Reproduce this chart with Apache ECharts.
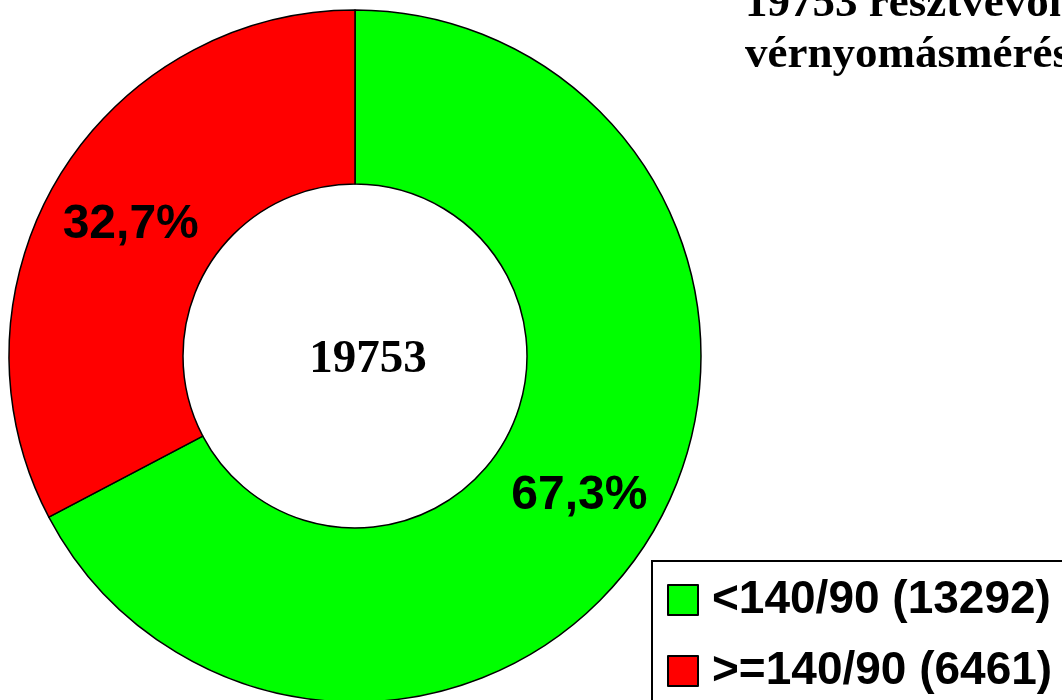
<!DOCTYPE html>
<html>
<head>
<meta charset="utf-8">
<script src="https://cdn.jsdelivr.net/npm/echarts@6/dist/echarts.min.js"></script>
<style>
  html, body { margin: 0; padding: 0; background: #fff; }
  #chart { width: 1062px; height: 700px; }
</style>
</head>
<body>
<div id="chart"></div>
<script>
var categories = ['<140/90', '>=140/90'];
var values = [13292, 6461];
var colors = ['#00ff00', '#ff0000'];
var total = 19753;

var myChart = echarts.init(document.getElementById('chart'));

var pieData = [];
for (var i = 0; i < categories.length; i++) {
  pieData.push({
    name: categories[i] + ' (' + values[i] + ')',
    value: values[i],
    itemStyle: { color: colors[i] }
  });
}

var option = {
  animation: false,
  title: {
    text: total + ' résztvevőnél\nvérnyomásmérés',
    left: 740,
    top: -26,
    textStyle: {
      fontFamily: 'Liberation Serif',
      fontWeight: 'bold',
      fontSize: 45,
      lineHeight: 51,
      color: '#000'
    }
  },
  legend: {
    orient: 'vertical',
    left: 652,
    top: 561,
    height: 300,
    padding: [16, 40, 16, 15],
    itemGap: 25,
    itemWidth: 30,
    itemHeight: 30,
    borderColor: '#000',
    borderWidth: 2,
    icon: 'rect',
    textStyle: {
      fontFamily: 'Liberation Sans',
      fontWeight: 'bold',
      fontSize: 46,
      lineHeight: 46,
      padding: [0, 0, 0, 9],
      color: '#000'
    }
  },
  graphic: [{
    type: 'text',
    x: 368,
    y: 360,
    style: {
      text: String(total),
      font: 'bold 47px "Liberation Serif"',
      fill: '#000',
      align: 'center',
      verticalAlign: 'middle'
    }
  }],
  series: [{
    type: 'pie',
    center: [355, 356],
    radius: [172, 346],
    startAngle: 90,
    clockwise: true,
    legendHoverLink: false,
    itemStyle: { borderColor: '#000', borderWidth: 1.5 },
    label: {
      position: 'inside',
      offset: [0, 4],
      fontFamily: 'Liberation Sans',
      fontWeight: 'bold',
      fontSize: 48,
      color: '#000',
      formatter: function (p) {
        return (p.value / total * 100).toFixed(1).replace('.', ',') + '%';
      }
    },
    labelLine: { show: false },
    data: pieData
  }]
};

myChart.setOption(option);
</script>
</body>
</html>
